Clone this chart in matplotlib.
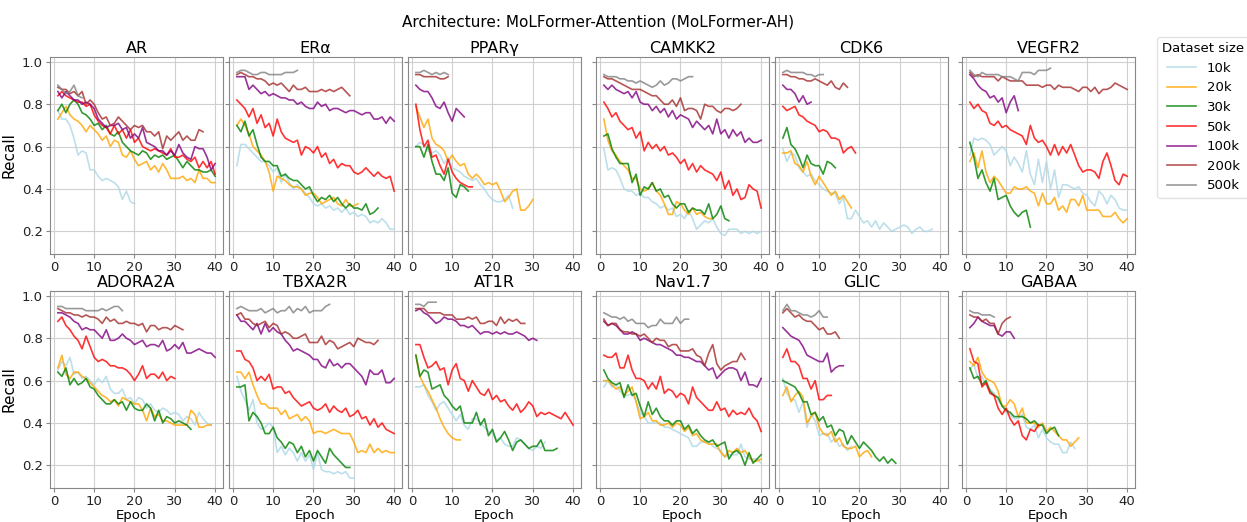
import matplotlib
matplotlib.use("Agg")
import matplotlib.pyplot as plt

sizes = ["10k", "20k", "30k", "50k", "100k", "200k", "500k"]
colors = ["lightblue", "orange", "green", "red", "purple", "brown", "grey"]

# recall per epoch, one list per dataset size (10k .. 500k)
AR = [
    [0.77, 0.73, 0.73, 0.70, 0.64, 0.56, 0.58, 0.57, 0.49, 0.49, 0.46, 0.44, 0.45, 0.44, 0.43, 0.41, 0.35, 0.39, 0.34, 0.33],
    [0.73, 0.76, 0.79, 0.75, 0.73, 0.72, 0.70, 0.67, 0.70, 0.68, 0.66, 0.63, 0.65, 0.60, 0.63, 0.62, 0.56, 0.55, 0.58, 0.54,
     0.51, 0.52, 0.53, 0.49, 0.51, 0.48, 0.52, 0.49, 0.45, 0.45, 0.45, 0.46, 0.44, 0.45, 0.43, 0.49, 0.45, 0.45, 0.43, 0.43],
    [0.77, 0.80, 0.76, 0.80, 0.82, 0.80, 0.76, 0.75, 0.73, 0.70, 0.71, 0.68, 0.70, 0.66, 0.65, 0.67, 0.62, 0.60, 0.58, 0.57,
     0.56, 0.58, 0.57, 0.54, 0.56, 0.55, 0.56, 0.54, 0.55, 0.56, 0.53, 0.50, 0.53, 0.51, 0.49, 0.49, 0.48, 0.48, 0.49, 0.46],
    [0.84, 0.86, 0.84, 0.83, 0.82, 0.81, 0.81, 0.79, 0.80, 0.75, 0.72, 0.70, 0.69, 0.66, 0.70, 0.66, 0.68, 0.64, 0.68, 0.62,
     0.64, 0.60, 0.59, 0.58, 0.59, 0.58, 0.57, 0.56, 0.59, 0.55, 0.55, 0.56, 0.54, 0.53, 0.55, 0.50, 0.53, 0.50, 0.53, 0.47],
    [0.86, 0.83, 0.86, 0.84, 0.82, 0.82, 0.80, 0.81, 0.80, 0.78, 0.73, 0.71, 0.69, 0.70, 0.70, 0.71, 0.68, 0.69, 0.64, 0.66,
     0.64, 0.69, 0.62, 0.61, 0.60, 0.58, 0.58, 0.56, 0.58, 0.56, 0.61, 0.57, 0.55, 0.54, 0.60, 0.59, 0.59, 0.55, 0.49, 0.52],
    [0.88, 0.87, 0.87, 0.85, 0.86, 0.84, 0.86, 0.80, 0.82, 0.80, 0.76, 0.73, 0.74, 0.70, 0.71, 0.74, 0.72, 0.70, 0.68, 0.70,
     0.69, 0.70, 0.67, 0.67, 0.65, 0.67, 0.59, 0.65, 0.63, 0.65, 0.67, 0.63, 0.65, 0.63, 0.63, 0.68, 0.67],
    [0.89, 0.87, 0.85, 0.86, 0.89, 0.84, 0.83],
]
ERa = [
    [0.51, 0.61, 0.61, 0.59, 0.57, 0.55, 0.53, 0.53, 0.51, 0.48, 0.50, 0.43, 0.47, 0.43, 0.40, 0.42, 0.40, 0.38, 0.36, 0.33,
     0.32, 0.33, 0.31, 0.32, 0.30, 0.31, 0.29, 0.31, 0.28, 0.29, 0.27, 0.28, 0.27, 0.24, 0.25, 0.24, 0.26, 0.24, 0.21, 0.21],
    [0.70, 0.73, 0.70, 0.66, 0.60, 0.58, 0.56, 0.53, 0.48, 0.39, 0.46, 0.45, 0.44, 0.42, 0.41, 0.41, 0.40, 0.37, 0.38, 0.38,
     0.36, 0.33, 0.34, 0.35, 0.36, 0.33, 0.32, 0.35, 0.32, 0.32, 0.33],
    [0.70, 0.67, 0.72, 0.65, 0.68, 0.61, 0.55, 0.53, 0.53, 0.51, 0.51, 0.46, 0.47, 0.45, 0.44, 0.44, 0.42, 0.40, 0.41, 0.37,
     0.34, 0.36, 0.35, 0.37, 0.34, 0.36, 0.33, 0.31, 0.33, 0.31, 0.31, 0.30, 0.33, 0.28, 0.29, 0.31],
    [0.82, 0.80, 0.78, 0.74, 0.78, 0.71, 0.75, 0.69, 0.71, 0.65, 0.73, 0.67, 0.64, 0.63, 0.62, 0.63, 0.56, 0.60, 0.59, 0.57,
     0.60, 0.55, 0.57, 0.52, 0.54, 0.50, 0.52, 0.51, 0.51, 0.48, 0.47, 0.48, 0.50, 0.48, 0.46, 0.48, 0.46, 0.45, 0.46, 0.39],
    [0.93, 0.93, 0.93, 0.87, 0.89, 0.87, 0.85, 0.86, 0.84, 0.85, 0.84, 0.83, 0.83, 0.82, 0.82, 0.80, 0.81, 0.79, 0.78, 0.78,
     0.81, 0.79, 0.80, 0.77, 0.78, 0.78, 0.77, 0.76, 0.77, 0.77, 0.76, 0.75, 0.76, 0.76, 0.73, 0.73, 0.74, 0.71, 0.74, 0.72],
    [0.94, 0.95, 0.94, 0.93, 0.93, 0.92, 0.92, 0.91, 0.89, 0.90, 0.89, 0.90, 0.88, 0.86, 0.89, 0.87, 0.87, 0.88, 0.86, 0.86,
     0.86, 0.87, 0.86, 0.87, 0.86, 0.87, 0.88, 0.86, 0.84],
    [0.95, 0.96, 0.96, 0.95, 0.94, 0.94, 0.95, 0.95, 0.94, 0.94, 0.94, 0.94, 0.95, 0.95, 0.95, 0.96],
]
PPARg = [
    [0.60, 0.62, 0.61, 0.58, 0.57, 0.58, 0.56, 0.52, 0.55, 0.50, 0.49, 0.48, 0.46, 0.45, 0.44, 0.45, 0.42, 0.40, 0.37, 0.35,
     0.34, 0.34, 0.35, 0.37, 0.31],
    [0.79, 0.74, 0.69, 0.73, 0.64, 0.61, 0.60, 0.58, 0.53, 0.56, 0.53, 0.51, 0.52, 0.47, 0.45, 0.47, 0.45, 0.42, 0.43, 0.42,
     0.43, 0.39, 0.34, 0.36, 0.39, 0.40, 0.30, 0.30, 0.32, 0.35],
    [0.60, 0.60, 0.55, 0.61, 0.53, 0.47, 0.47, 0.44, 0.50, 0.38, 0.36, 0.42, 0.41, 0.39],
    [0.80, 0.68, 0.60, 0.63, 0.55, 0.56, 0.51, 0.47, 0.54, 0.48, 0.45, 0.43, 0.42, 0.41, 0.41],
    [0.89, 0.87, 0.86, 0.86, 0.83, 0.79, 0.78, 0.81, 0.76, 0.72, 0.78, 0.76, 0.74],
    [0.94, 0.94, 0.93, 0.93, 0.93, 0.93, 0.92, 0.92, 0.93],
    [0.95, 0.95, 0.96, 0.95, 0.94, 0.95, 0.94, 0.95, 0.94],
]
CAMKK2 = [
    [0.59, 0.49, 0.50, 0.49, 0.45, 0.40, 0.39, 0.39, 0.37, 0.38, 0.36, 0.36, 0.34, 0.33, 0.31, 0.32, 0.30, 0.31, 0.27, 0.28,
     0.26, 0.30, 0.26, 0.21, 0.23, 0.25, 0.24, 0.26, 0.22, 0.19, 0.18, 0.21, 0.21, 0.21, 0.19, 0.20, 0.19, 0.20, 0.19, 0.20],
    [0.73, 0.63, 0.58, 0.56, 0.53, 0.51, 0.49, 0.45, 0.45, 0.40, 0.39, 0.40, 0.43, 0.39, 0.37, 0.33, 0.28, 0.28, 0.34, 0.33,
     0.30, 0.28, 0.31, 0.28, 0.29, 0.27, 0.26, 0.26],
    [0.65, 0.66, 0.59, 0.55, 0.52, 0.52, 0.52, 0.43, 0.47, 0.37, 0.41, 0.40, 0.43, 0.39, 0.40, 0.36, 0.37, 0.33, 0.31, 0.33,
     0.33, 0.29, 0.31, 0.30, 0.30, 0.28, 0.33, 0.26, 0.28, 0.32, 0.26, 0.25],
    [0.81, 0.78, 0.74, 0.76, 0.72, 0.70, 0.68, 0.69, 0.64, 0.67, 0.58, 0.62, 0.59, 0.61, 0.58, 0.60, 0.56, 0.57, 0.55, 0.52,
     0.54, 0.49, 0.52, 0.48, 0.51, 0.49, 0.48, 0.47, 0.44, 0.48, 0.40, 0.44, 0.37, 0.40, 0.35, 0.36, 0.42, 0.40, 0.39, 0.31],
    [0.89, 0.87, 0.89, 0.87, 0.86, 0.85, 0.86, 0.83, 0.86, 0.81, 0.80, 0.80, 0.77, 0.79, 0.76, 0.78, 0.74, 0.77, 0.73, 0.75,
     0.74, 0.73, 0.69, 0.72, 0.70, 0.68, 0.70, 0.66, 0.73, 0.66, 0.68, 0.64, 0.68, 0.65, 0.67, 0.62, 0.64, 0.62, 0.62, 0.63],
    [0.93, 0.92, 0.92, 0.91, 0.90, 0.89, 0.88, 0.87, 0.87, 0.87, 0.86, 0.85, 0.84, 0.84, 0.82, 0.80, 0.80, 0.82, 0.79, 0.83,
     0.77, 0.78, 0.78, 0.77, 0.73, 0.80, 0.79, 0.79, 0.77, 0.76, 0.78, 0.78, 0.77, 0.78, 0.80],
    [0.94, 0.93, 0.93, 0.93, 0.92, 0.92, 0.91, 0.91, 0.90, 0.91, 0.90, 0.89, 0.88, 0.89, 0.91, 0.89, 0.90, 0.92, 0.92, 0.91,
     0.92, 0.93, 0.93],
]
CDK6 = [
    [0.59, 0.53, 0.57, 0.56, 0.50, 0.48, 0.46, 0.47, 0.44, 0.42, 0.40, 0.39, 0.38, 0.38, 0.33, 0.36, 0.26, 0.26, 0.30, 0.27,
     0.24, 0.25, 0.22, 0.25, 0.21, 0.24, 0.22, 0.20, 0.21, 0.22, 0.23, 0.22, 0.19, 0.21, 0.22, 0.20, 0.20, 0.21],
    [0.57, 0.57, 0.58, 0.52, 0.51, 0.48, 0.53, 0.46, 0.42, 0.46, 0.43, 0.40, 0.37, 0.39, 0.35, 0.37, 0.34, 0.31],
    [0.64, 0.69, 0.61, 0.59, 0.55, 0.50, 0.56, 0.52, 0.51, 0.51, 0.47, 0.53, 0.52, 0.50],
    [0.79, 0.77, 0.78, 0.79, 0.75, 0.74, 0.72, 0.71, 0.70, 0.67, 0.68, 0.67, 0.64, 0.64, 0.63, 0.57, 0.59, 0.60, 0.57],
    [0.89, 0.87, 0.87, 0.85, 0.81, 0.84, 0.80, 0.81],
    [0.94, 0.94, 0.93, 0.93, 0.92, 0.92, 0.91, 0.91, 0.92, 0.91, 0.90, 0.89, 0.91, 0.88, 0.87, 0.90, 0.88],
    [0.95, 0.96, 0.95, 0.95, 0.95, 0.95, 0.94, 0.94, 0.93, 0.94, 0.94],
]
VEGFR2 = [
    [0.56, 0.64, 0.63, 0.64, 0.63, 0.61, 0.56, 0.58, 0.60, 0.58, 0.51, 0.55, 0.52, 0.48, 0.58, 0.47, 0.42, 0.54, 0.43, 0.53,
     0.40, 0.49, 0.36, 0.42, 0.42, 0.41, 0.40, 0.41, 0.38, 0.37, 0.34, 0.32, 0.39, 0.37, 0.33, 0.37, 0.35, 0.31, 0.30, 0.30],
    [0.53, 0.57, 0.50, 0.58, 0.48, 0.43, 0.46, 0.44, 0.41, 0.38, 0.38, 0.41, 0.40, 0.40, 0.41, 0.39, 0.38, 0.32, 0.38, 0.33,
     0.33, 0.36, 0.30, 0.32, 0.29, 0.35, 0.35, 0.32, 0.37, 0.30, 0.30, 0.30, 0.30, 0.27, 0.27, 0.27, 0.29, 0.26, 0.24, 0.26],
    [0.62, 0.55, 0.45, 0.49, 0.43, 0.39, 0.45, 0.35, 0.36, 0.37, 0.32, 0.29, 0.27, 0.29, 0.30, 0.22],
    [0.81, 0.78, 0.80, 0.77, 0.76, 0.71, 0.70, 0.72, 0.69, 0.70, 0.68, 0.67, 0.66, 0.65, 0.61, 0.70, 0.64, 0.62, 0.63, 0.60,
     0.56, 0.61, 0.56, 0.60, 0.57, 0.61, 0.56, 0.51, 0.48, 0.49, 0.49, 0.48, 0.45, 0.53, 0.57, 0.51, 0.44, 0.42, 0.47, 0.46],
    [0.94, 0.92, 0.89, 0.87, 0.86, 0.83, 0.84, 0.81, 0.83, 0.76, 0.81, 0.84, 0.77],
    [0.95, 0.93, 0.94, 0.93, 0.93, 0.93, 0.93, 0.91, 0.93, 0.92, 0.91, 0.91, 0.91, 0.91, 0.89, 0.89, 0.89, 0.89, 0.88, 0.89,
     0.89, 0.87, 0.89, 0.88, 0.88, 0.88, 0.87, 0.86, 0.88, 0.88, 0.86, 0.88, 0.85, 0.87, 0.87, 0.88, 0.90, 0.89, 0.88, 0.87],
    [0.96, 0.94, 0.93, 0.95, 0.94, 0.94, 0.94, 0.94, 0.93, 0.93, 0.93, 0.92, 0.91, 0.95, 0.95, 0.95, 0.94, 0.96, 0.96, 0.96,
     0.97],
]
ADORA2A = [
    [0.65, 0.69, 0.67, 0.71, 0.63, 0.64, 0.61, 0.62, 0.60, 0.58, 0.61, 0.59, 0.62, 0.56, 0.54, 0.54, 0.56, 0.51, 0.52, 0.49,
     0.52, 0.51, 0.47, 0.49, 0.46, 0.45, 0.47, 0.46, 0.44, 0.45, 0.44, 0.41, 0.43, 0.42, 0.39, 0.45, 0.42, 0.40, 0.39],
    [0.66, 0.72, 0.63, 0.61, 0.64, 0.64, 0.62, 0.61, 0.59, 0.57, 0.55, 0.53, 0.52, 0.50, 0.51, 0.48, 0.52, 0.51, 0.50, 0.49,
     0.49, 0.46, 0.41, 0.47, 0.43, 0.44, 0.41, 0.41, 0.40, 0.39, 0.39, 0.39, 0.39, 0.46, 0.44, 0.38, 0.38, 0.39, 0.39],
    [0.64, 0.62, 0.66, 0.58, 0.61, 0.58, 0.59, 0.61, 0.57, 0.56, 0.53, 0.51, 0.49, 0.49, 0.51, 0.49, 0.50, 0.46, 0.50, 0.47,
     0.46, 0.46, 0.49, 0.47, 0.41, 0.46, 0.40, 0.43, 0.42, 0.40, 0.41, 0.40, 0.39, 0.37],
    [0.88, 0.90, 0.86, 0.84, 0.81, 0.79, 0.75, 0.81, 0.76, 0.71, 0.69, 0.70, 0.69, 0.67, 0.67, 0.66, 0.66, 0.65, 0.63, 0.60,
     0.63, 0.67, 0.61, 0.63, 0.63, 0.61, 0.64, 0.60, 0.62, 0.61],
    [0.92, 0.92, 0.91, 0.90, 0.88, 0.87, 0.84, 0.85, 0.84, 0.84, 0.82, 0.80, 0.84, 0.79, 0.79, 0.80, 0.82, 0.80, 0.79, 0.77,
     0.78, 0.79, 0.76, 0.77, 0.77, 0.76, 0.79, 0.74, 0.75, 0.77, 0.75, 0.78, 0.73, 0.73, 0.74, 0.75, 0.74, 0.73, 0.73, 0.71],
    [0.94, 0.93, 0.92, 0.92, 0.91, 0.91, 0.90, 0.91, 0.90, 0.90, 0.89, 0.87, 0.90, 0.88, 0.89, 0.87, 0.87, 0.88, 0.87, 0.87,
     0.86, 0.87, 0.83, 0.86, 0.86, 0.84, 0.85, 0.85, 0.84, 0.86, 0.85, 0.84],
    [0.95, 0.95, 0.94, 0.94, 0.94, 0.94, 0.94, 0.93, 0.93, 0.93, 0.93, 0.94, 0.93, 0.94, 0.95, 0.95, 0.93],
]
TBXA2R = [
    [0.62, 0.55, 0.51, 0.46, 0.51, 0.40, 0.37, 0.38, 0.40, 0.38, 0.26, 0.29, 0.25, 0.28, 0.26, 0.22, 0.26, 0.22, 0.25, 0.18,
     0.26, 0.18, 0.17, 0.17, 0.16, 0.17, 0.16, 0.17, 0.14, 0.14],
    [0.64, 0.64, 0.61, 0.64, 0.58, 0.53, 0.49, 0.49, 0.47, 0.47, 0.47, 0.44, 0.46, 0.42, 0.43, 0.44, 0.41, 0.43, 0.41, 0.35,
     0.36, 0.36, 0.35, 0.36, 0.37, 0.36, 0.35, 0.35, 0.35, 0.31, 0.26, 0.27, 0.26, 0.30, 0.26, 0.28, 0.26, 0.27, 0.26, 0.26],
    [0.57, 0.57, 0.58, 0.41, 0.45, 0.43, 0.40, 0.35, 0.35, 0.38, 0.33, 0.31, 0.28, 0.31, 0.30, 0.26, 0.29, 0.24, 0.27, 0.22,
     0.27, 0.24, 0.21, 0.28, 0.25, 0.23, 0.21, 0.19, 0.19],
    [0.74, 0.74, 0.70, 0.69, 0.66, 0.60, 0.62, 0.60, 0.63, 0.56, 0.57, 0.57, 0.54, 0.55, 0.52, 0.50, 0.48, 0.49, 0.50, 0.47,
     0.46, 0.47, 0.49, 0.45, 0.48, 0.46, 0.45, 0.47, 0.43, 0.44, 0.46, 0.42, 0.43, 0.39, 0.42, 0.38, 0.40, 0.37, 0.36, 0.35],
    [0.91, 0.88, 0.88, 0.86, 0.84, 0.87, 0.82, 0.87, 0.83, 0.85, 0.83, 0.82, 0.79, 0.77, 0.74, 0.75, 0.74, 0.73, 0.72, 0.70,
     0.70, 0.67, 0.66, 0.70, 0.67, 0.68, 0.66, 0.68, 0.68, 0.66, 0.64, 0.62, 0.58, 0.65, 0.63, 0.63, 0.65, 0.59, 0.59, 0.61],
    [0.91, 0.92, 0.89, 0.89, 0.87, 0.86, 0.87, 0.88, 0.85, 0.87, 0.86, 0.82, 0.83, 0.82, 0.80, 0.80, 0.81, 0.82, 0.78, 0.78,
     0.78, 0.81, 0.77, 0.79, 0.78, 0.75, 0.76, 0.77, 0.78, 0.76, 0.80, 0.79, 0.78, 0.78, 0.77, 0.79],
    [0.94, 0.95, 0.94, 0.93, 0.93, 0.93, 0.94, 0.92, 0.93, 0.94, 0.92, 0.93, 0.93, 0.95, 0.92, 0.94, 0.93, 0.95, 0.92, 0.93,
     0.93, 0.93, 0.95, 0.96],
]
AT1R = [
    [0.57, 0.57, 0.58, 0.53, 0.50, 0.46, 0.49, 0.50, 0.47, 0.44, 0.41, 0.44, 0.39, 0.37, 0.42, 0.42, 0.40, 0.38, 0.36, 0.35,
     0.32, 0.33, 0.30, 0.29, 0.29, 0.33, 0.32, 0.30, 0.28, 0.27, 0.29, 0.28, 0.31],
    [0.72, 0.62, 0.58, 0.55, 0.51, 0.47, 0.42, 0.38, 0.35, 0.33, 0.32, 0.32],
    [0.72, 0.62, 0.65, 0.64, 0.56, 0.57, 0.58, 0.53, 0.51, 0.48, 0.46, 0.48, 0.40, 0.40, 0.40, 0.45, 0.39, 0.42, 0.34, 0.37,
     0.31, 0.33, 0.36, 0.32, 0.27, 0.31, 0.32, 0.30, 0.28, 0.29, 0.29, 0.32, 0.27, 0.27, 0.27, 0.28],
    [0.77, 0.77, 0.71, 0.66, 0.67, 0.69, 0.65, 0.66, 0.58, 0.65, 0.68, 0.61, 0.60, 0.55, 0.60, 0.57, 0.54, 0.53, 0.56, 0.51,
     0.53, 0.50, 0.51, 0.48, 0.46, 0.49, 0.45, 0.47, 0.50, 0.48, 0.43, 0.45, 0.44, 0.45, 0.44, 0.43, 0.42, 0.45, 0.42, 0.39],
    [0.93, 0.94, 0.92, 0.91, 0.89, 0.87, 0.88, 0.90, 0.89, 0.89, 0.88, 0.86, 0.86, 0.85, 0.86, 0.84, 0.82, 0.83, 0.83, 0.82,
     0.83, 0.82, 0.83, 0.82, 0.82, 0.83, 0.82, 0.81, 0.79, 0.80, 0.79],
    [0.94, 0.94, 0.94, 0.92, 0.92, 0.92, 0.92, 0.91, 0.91, 0.91, 0.89, 0.89, 0.89, 0.90, 0.89, 0.90, 0.87, 0.87, 0.88, 0.88,
     0.86, 0.90, 0.87, 0.89, 0.88, 0.89, 0.87, 0.87],
    [0.96, 0.96, 0.95, 0.97, 0.97, 0.97],
]
NAV17 = [
    [0.57, 0.60, 0.57, 0.58, 0.55, 0.53, 0.53, 0.54, 0.50, 0.45, 0.43, 0.40, 0.40, 0.40, 0.40, 0.38, 0.38, 0.37, 0.36, 0.35,
     0.34, 0.33, 0.29, 0.29, 0.31, 0.31, 0.31, 0.29, 0.28, 0.27, 0.24, 0.25, 0.25, 0.25, 0.30, 0.24, 0.23, 0.23, 0.23, 0.21],
    [0.60, 0.60, 0.58, 0.56, 0.57, 0.53, 0.55, 0.57, 0.50, 0.42, 0.43, 0.45, 0.41, 0.41, 0.39, 0.39, 0.40, 0.38, 0.40, 0.39,
     0.36, 0.38, 0.34, 0.35, 0.32, 0.31, 0.30, 0.30, 0.30, 0.26, 0.24, 0.27, 0.26, 0.28, 0.26, 0.27, 0.24, 0.22, 0.22, 0.23],
    [0.65, 0.61, 0.59, 0.58, 0.59, 0.52, 0.58, 0.53, 0.54, 0.48, 0.43, 0.50, 0.44, 0.47, 0.43, 0.41, 0.41, 0.39, 0.41, 0.41,
     0.37, 0.39, 0.35, 0.37, 0.34, 0.32, 0.31, 0.32, 0.29, 0.30, 0.31, 0.23, 0.26, 0.27, 0.25, 0.20, 0.26, 0.21, 0.23, 0.25],
    [0.72, 0.71, 0.71, 0.73, 0.66, 0.66, 0.72, 0.65, 0.61, 0.61, 0.60, 0.56, 0.59, 0.56, 0.62, 0.54, 0.56, 0.55, 0.52, 0.54,
     0.53, 0.49, 0.57, 0.52, 0.50, 0.48, 0.46, 0.46, 0.50, 0.46, 0.47, 0.43, 0.46, 0.44, 0.45, 0.44, 0.47, 0.43, 0.41, 0.36],
    [0.88, 0.86, 0.87, 0.86, 0.84, 0.82, 0.82, 0.83, 0.82, 0.79, 0.80, 0.79, 0.78, 0.77, 0.77, 0.76, 0.75, 0.74, 0.72, 0.72,
     0.71, 0.71, 0.70, 0.69, 0.69, 0.67, 0.65, 0.66, 0.61, 0.63, 0.65, 0.66, 0.66, 0.65, 0.60, 0.64, 0.58, 0.58, 0.57, 0.61],
    [0.89, 0.86, 0.87, 0.87, 0.84, 0.83, 0.83, 0.82, 0.82, 0.81, 0.82, 0.80, 0.78, 0.80, 0.79, 0.79, 0.76, 0.77, 0.77, 0.74,
     0.74, 0.74, 0.75, 0.72, 0.71, 0.67, 0.73, 0.77, 0.68, 0.65, 0.67, 0.68, 0.69, 0.69, 0.73, 0.70],
    [0.92, 0.91, 0.90, 0.90, 0.89, 0.90, 0.88, 0.89, 0.87, 0.87, 0.87, 0.85, 0.86, 0.86, 0.89, 0.87, 0.87, 0.87, 0.90, 0.87,
     0.89, 0.89],
]
GLIC = [
    [0.61, 0.54, 0.51, 0.51, 0.45, 0.50, 0.38, 0.44, 0.41, 0.34, 0.35, 0.35, 0.31, 0.33, 0.29, 0.30, 0.27, 0.29],
    [0.53, 0.57, 0.50, 0.53, 0.55, 0.52, 0.40, 0.43, 0.45, 0.38, 0.35, 0.34, 0.36, 0.31, 0.33, 0.29, 0.28, 0.28, 0.29, 0.24,
     0.26, 0.27, 0.24],
    [0.60, 0.59, 0.58, 0.57, 0.54, 0.50, 0.50, 0.44, 0.45, 0.41, 0.43, 0.38, 0.39, 0.34, 0.37, 0.36, 0.30, 0.34, 0.31, 0.28,
     0.31, 0.29, 0.27, 0.24, 0.22, 0.24, 0.21, 0.23, 0.21],
    [0.71, 0.75, 0.69, 0.69, 0.67, 0.61, 0.61, 0.56, 0.60, 0.51, 0.51, 0.53, 0.53],
    [0.85, 0.83, 0.81, 0.80, 0.79, 0.76, 0.72, 0.71, 0.70, 0.69, 0.69, 0.73, 0.64, 0.66, 0.67, 0.67],
    [0.92, 0.94, 0.92, 0.90, 0.91, 0.89, 0.88, 0.88, 0.86, 0.84, 0.85, 0.82, 0.82, 0.83, 0.80],
    [0.93, 0.96, 0.93, 0.93, 0.92, 0.91, 0.91, 0.90, 0.91, 0.93, 0.90, 0.90],
]
GABAA = [
    [0.65, 0.68, 0.61, 0.62, 0.58, 0.56, 0.54, 0.51, 0.48, 0.45, 0.44, 0.42, 0.42, 0.44, 0.38, 0.37, 0.39, 0.33, 0.37, 0.33,
     0.31, 0.30, 0.30, 0.26, 0.26, 0.31, 0.28],
    [0.69, 0.67, 0.71, 0.64, 0.61, 0.60, 0.59, 0.55, 0.48, 0.48, 0.51, 0.49, 0.43, 0.47, 0.40, 0.40, 0.40, 0.38, 0.40, 0.36,
     0.38, 0.36, 0.34, 0.32, 0.32, 0.29, 0.31, 0.33],
    [0.66, 0.61, 0.62, 0.58, 0.60, 0.55, 0.53, 0.52, 0.48, 0.46, 0.45, 0.43, 0.43, 0.43, 0.42, 0.40, 0.41, 0.39, 0.39, 0.35,
     0.37, 0.38, 0.34],
    [0.75, 0.69, 0.68, 0.57, 0.59, 0.54, 0.53, 0.47, 0.44, 0.47, 0.42, 0.39, 0.41, 0.34, 0.32, 0.37, 0.36, 0.39],
    [0.85, 0.87, 0.90, 0.88, 0.87, 0.86, 0.86, 0.82, 0.81, 0.83, 0.83, 0.80],
    [0.91, 0.90, 0.90, 0.88, 0.89, 0.87, 0.87, 0.82, 0.87, 0.89, 0.90],
    [0.93, 0.92, 0.92, 0.91, 0.91, 0.91, 0.90],
]

titles = ["AR", "ER\u03b1", "PPAR\u03b3", "CAMKK2", "CDK6", "VEGFR2",
          "ADORA2A", "TBXA2R", "AT1R", "Nav1.7", "GLIC", "GABAA"]
panels = [AR, ERa, PPARg, CAMKK2, CDK6, VEGFR2,
          ADORA2A, TBXA2R, AT1R, NAV17, GLIC, GABAA]

W, H = 1247, 522
fig = plt.figure(figsize=(W / 100, H / 100), dpi=100)

lefts = [50, 229, 408, 596, 775, 962]
tops = [57, 291]
aw, ah = 173, 197

for i, (name, data) in enumerate(zip(titles, panels)):
    r, c = divmod(i, 6)
    ax = fig.add_axes([lefts[c] / W, 1 - (tops[r] + ah) / H, aw / W, ah / H])
    for vals, col, lab in zip(data, colors, sizes):
        ep = list(range(1, len(vals) + 1))
        ax.plot(ep, vals, color=col, lw=1.2, alpha=0.8, label=lab)
    ax.set_xlim(-0.95, 41.95)
    ax.set_ylim(0.093, 1.023)
    ax.set_xticks([0, 10, 20, 30, 40])
    ax.set_yticks([0.2, 0.4, 0.6, 0.8, 1.0])
    ax.grid(True, color="#d0d0d0", lw=0.8)
    ax.set_axisbelow(True)
    for s in ax.spines.values():
        s.set_color("#888888")
    ax.tick_params(labelsize=9.5, colors="#222222", length=3, color="#888888", pad=2)
    ax.set_title(name, fontsize=11.5, pad=3)
    if c == 0:
        ax.set_ylabel("Recall", fontsize=11)
    else:
        ax.tick_params(labelleft=False)
    if r == 1:
        ax.set_xlabel("Epoch", fontsize=9.5, labelpad=1)
    if i == 0:
        handles, labels = ax.get_legend_handles_labels()

fig.legend(handles, labels, title="Dataset size", loc="upper left",
           bbox_to_anchor=(1153 / W, 1 - 33 / H), fontsize=9.5, title_fontsize=9.5,
           frameon=True, edgecolor="#dddddd", handlelength=2.2, borderaxespad=0.3)
fig.text(0.48, 1 - 22 / H, "Architecture: MoLFormer-Attention (MoLFormer-AH)",
         ha="center", va="center", fontsize=11)

fig.savefig("out.png", dpi=100)
